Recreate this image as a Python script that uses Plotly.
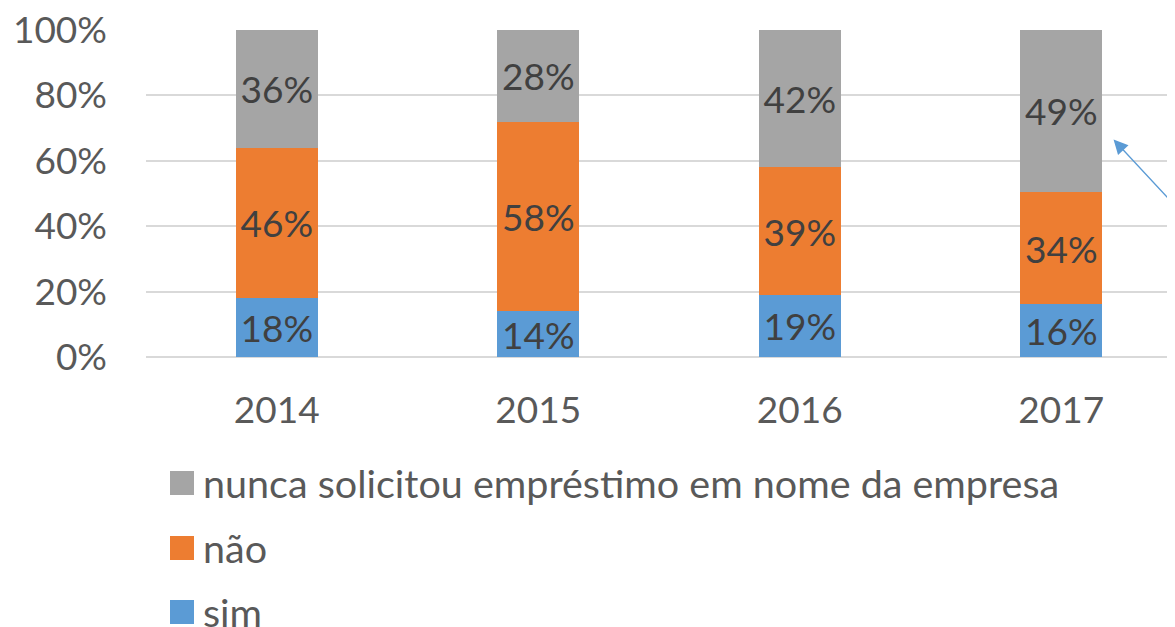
import plotly.graph_objects as go

years = ["2014", "2015", "2016", "2017"]
series_names = ["sim", "não", "nunca solicitou empréstimo em nome da empresa"]
sim = [18, 14, 19, 16]
nao = [46, 58, 39, 34]
nunca = [36, 28, 42, 49]
y_ticks = [0, 20, 40, 60, 80, 100]
y_tick_labels = ["0%", "20%", "40%", "60%", "80%", "100%"]

colors = ["#5B9BD5", "#ED7D31", "#A5A5A5"]
FONT = "Lato"
TEXT_COLOR = "#595959"
LABEL_COLOR = "#404040"
FS = 37
LEG_FS = 39.5

OFF = 8  # page body margin offset
W, H = 1175 - OFF, 627 - OFF
L, T = 146 - OFF, 30 - OFF
PH = 327
B = H - T - PH
R = 0
PW = W - L - R


def px(x):
    return (x - OFF - L) / PW


def py(y):
    return (T + PH - (y - OFF)) / PH


fig = go.Figure()
for name, vals, col in zip(series_names, [sim, nao, nunca], colors):
    fig.add_trace(go.Bar(
        x=years, y=vals, name=name, marker=dict(color=col, line=dict(width=0)),
        text=[f"{v}%" for v in vals], textposition="inside", insidetextanchor="middle",
        textangle=0, textfont=dict(family=FONT, size=FS, color=LABEL_COLOR),
        showlegend=False,
    ))

# manual legend (top to bottom: nunca, não, sim)
legend_rows = [(2, 483), (1, 548), (0, 612)]
for idx, cy in legend_rows:
    fig.add_shape(type="rect", xref="paper", yref="paper",
                  x0=px(170), x1=px(194), y0=py(cy - 12), y1=py(cy + 12),
                  fillcolor=colors[idx], line=dict(width=0))
    fig.add_annotation(xref="paper", yref="paper", x=px(202), y=py(cy - 1),
                       xanchor="left", yanchor="middle", showarrow=False,
                       text=series_names[idx], borderpad=0,
                       font=dict(family=FONT, size=LEG_FS, color=TEXT_COLOR))

# arrow callout
fig.add_annotation(xref="x", yref="y", x=3.2, y=66.5, ax=95, ay=66,
                   axref="pixel", ayref="pixel", text="", showarrow=True,
                   arrowhead=2, arrowsize=2.2, arrowwidth=1.3, arrowcolor="#5B9BD5")

fig.update_layout(
    width=W, height=H,
    margin=dict(l=L, r=R, t=T, b=B, autoexpand=False),
    barmode="stack", barnorm="percent", bargap=0.686,
    plot_bgcolor="white", paper_bgcolor="white",
    font=dict(family=FONT, size=FS, color=TEXT_COLOR),
    uniformtext=dict(minsize=FS, mode="show"),
    xaxis=dict(range=[-0.5, -0.5 + PW / 261.5], showgrid=False, showline=False,
               ticks="", tickfont=dict(size=FS, color=TEXT_COLOR), ticklabelstandoff=28,
               ticklabeloverflow="allow", automargin=False),
    yaxis=dict(range=[0, 100], tickvals=y_ticks, ticktext=y_tick_labels,
               gridcolor="#D9D9D9", gridwidth=2, zeroline=True, zerolinecolor="#D9D9D9",
               zerolinewidth=2, showline=False, ticks="",
               tickfont=dict(size=FS, color=TEXT_COLOR), ticklabelstandoff=38,
               ticklabeloverflow="allow", automargin=False),
)

fig.write_html("out.html")
